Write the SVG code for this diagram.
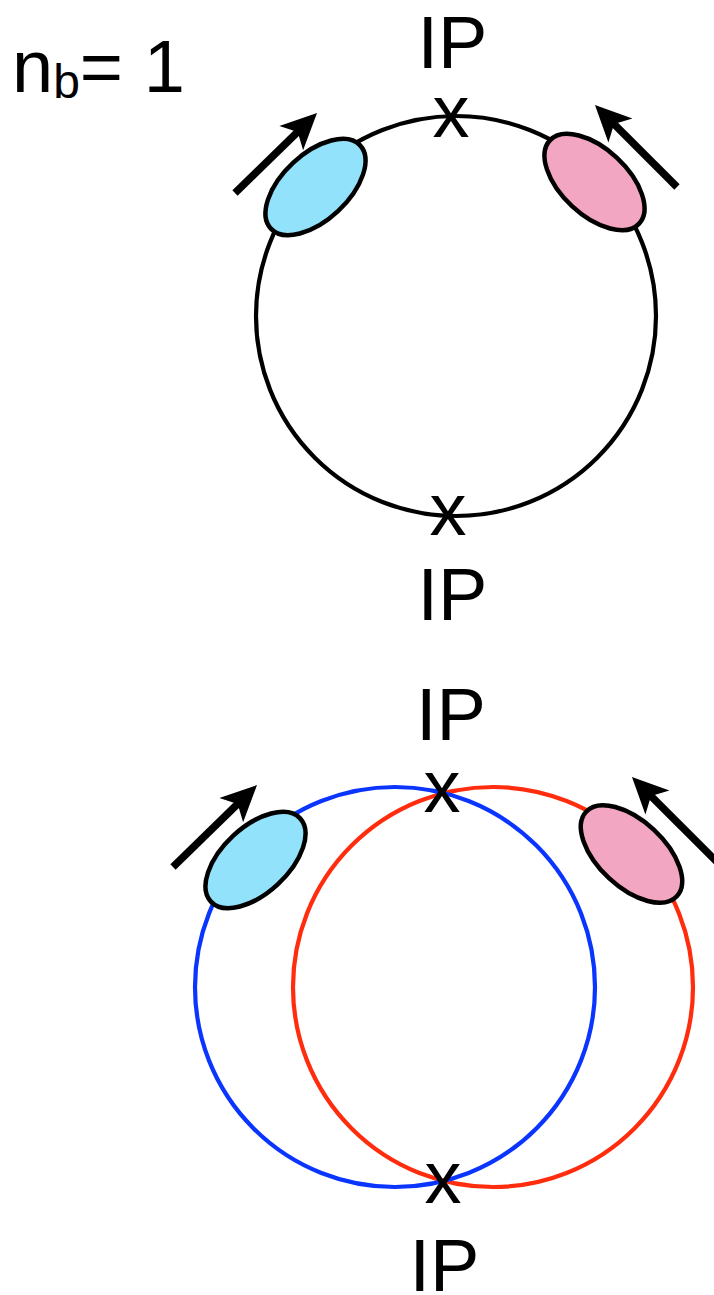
<svg xmlns="http://www.w3.org/2000/svg" width="714" height="1295" viewBox="0 0 714 1295">
<style>
  .lbl { font-family: "Liberation Sans", Arial, sans-serif; font-size: 74px; fill: #000; }
  .mid { text-anchor: middle; }
  .ring { fill: none; stroke-width: 4.2; }
  .bunch { stroke: #000; stroke-width: 4.5; }
  .blue { fill: #93E2FB; }
  .pink { fill: #F3A6C2; }
  .arrow { stroke: #000; stroke-width: 7.5; fill: none; marker-end: url(#ah); }
</style>
<defs>
  <marker id="ah" markerUnits="userSpaceOnUse" markerWidth="40" markerHeight="40" viewBox="-38 -20 40 40" refX="-20" refY="0" orient="auto" overflow="visible">
    <path d="M0,0 L-36,-17 L-27,0 L-36,17 Z" fill="#000"/>
  </marker>
</defs>
<rect width="714" height="1295" fill="#fff"/>

<g id="label-nb">
  <text class="lbl" x="12" y="92">n<tspan font-size="48" dy="6">b</tspan><tspan dy="-6">= 1</tspan></text>
</g>

<g id="ring-top">
  <circle class="ring" cx="456" cy="316" r="200" stroke="#000"/>
</g>

<g id="rings-bottom">
  <circle class="ring" cx="493" cy="987" r="200" stroke="#FF2D0D"/>
  <circle class="ring" cx="395" cy="987" r="200" stroke="#0A35FF"/>
</g>

<g id="ip-top-1">
  <text class="lbl mid" x="452.5" y="68">IP</text>
  <text class="lbl mid" x="451" y="137">x</text>
</g>
<g id="ip-top-2">
  <text class="lbl mid" x="448" y="535">x</text>
  <text class="lbl mid" x="452.5" y="620">IP</text>
</g>
<g id="ip-bottom-1">
  <text class="lbl mid" x="451" y="740">IP</text>
  <text class="lbl mid" x="442" y="812">x</text>
</g>
<g id="ip-bottom-2">
  <text class="lbl mid" x="443" y="1203">x</text>
  <text class="lbl mid" x="444.5" y="1291">IP</text>
</g>

<g id="bunch-top-blue">
  <ellipse class="bunch blue" cx="315.5" cy="187" rx="61" ry="33" transform="rotate(-43 315.5 187)"/>
</g>
<g id="bunch-top-pink">
  <ellipse class="bunch pink" cx="594.5" cy="182" rx="61" ry="33" transform="rotate(43 594.5 182)"/>
</g>
<g id="bunch-bottom-blue">
  <ellipse class="bunch blue" cx="255.5" cy="860" rx="61" ry="33" transform="rotate(-43 255.5 860)"/>
</g>
<g id="bunch-bottom-pink">
  <ellipse class="bunch pink" cx="631.5" cy="854" rx="62" ry="33" transform="rotate(43 631.5 854)"/>
</g>

<g id="connectors">
  <line class="arrow" x1="235" y1="193" x2="302.7" y2="127"/>
  <line class="arrow" x1="677" y1="187" x2="609.1" y2="119.1"/>
  <line class="arrow" x1="173" y1="867" x2="242.7" y2="799"/>
  <line class="arrow" x1="722" y1="867" x2="646.1" y2="791.1"/>
</g>
</svg>
